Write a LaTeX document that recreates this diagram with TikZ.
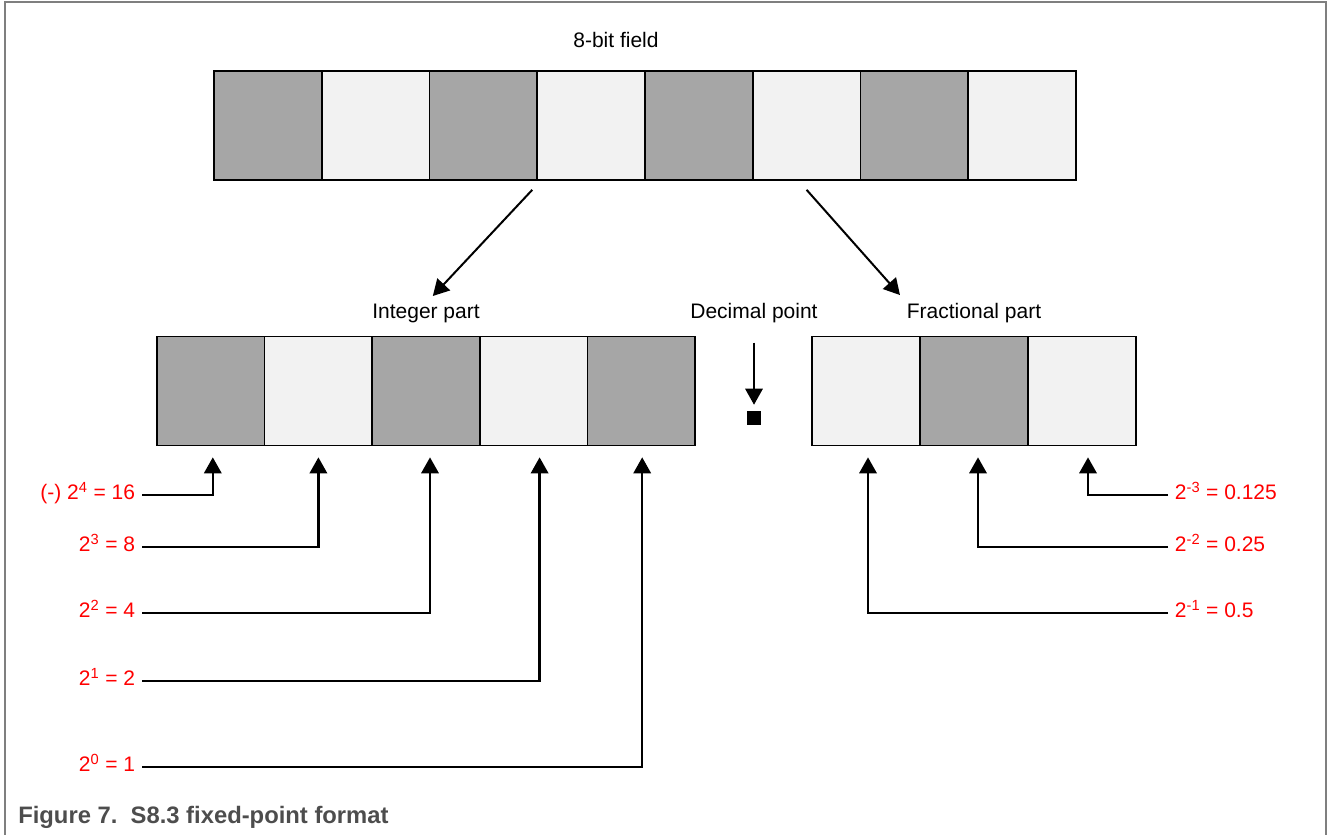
\documentclass[tikz,border=0pt]{standalone}
\usepackage{fontspec}
\setmainfont{Liberation Sans}
\usetikzlibrary{arrows.meta}
\definecolor{darkcell}{HTML}{A6A6A6}
\definecolor{lightcell}{HTML}{F2F2F2}
\definecolor{framegray}{HTML}{7F7F7F}
\definecolor{captiongray}{HTML}{4D4D4D}
\tikzset{
  bit/.style={draw, line width=1.2pt, minimum width=80.8pt, minimum height=81.5pt,
    inner sep=0pt, outer sep=0pt},
  one/.style={bit, fill=darkcell},
  zero/.style={bit, fill=lightcell},
  title/.style={font=\fontsize{15.75}{19}\selectfont, inner sep=0pt},
  weight/.style={font=\fontsize{15.75}{19}\selectfont, text=red, text height=0.72em,
    text depth=0pt, inner xsep=5pt, inner ysep=0pt},
  arr/.style={-{Triangle[length=12pt,width=13pt]}, line width=1.8pt},
}
\begin{document}
\begin{tikzpicture}[x=0.75pt, y=-0.75pt]
      \useasboundingbox (0,0) rectangle (1328,835);
      \draw[framegray, line width=1.2pt] (5,835) -- (5,2) -- (1326,2) -- (1326,835);
      \node[title, anchor=base] (fieldlbl) at (616,47) {8-bit field};
      \draw
        (267.9,125.5) node[one] (t1){}
        (375.6,125.5) node[zero] (t2){}
        (483.4,125.5) node[one] (t3){}
        (591.1,125.5) node[zero] (t4){}
        (698.9,125.5) node[one] (t5){}
        (806.6,125.5) node[zero] (t6){}
        (914.4,125.5) node[one] (t7){}
        (1022.1,125.5) node[zero] (t8){};
      \node[title, anchor=base] (intlbl) at (426,318) {Integer part};
      \node[title, anchor=base] (declbl) at (754,318) {Decimal point};
      \node[title, anchor=base] (fraclbl) at (974,318) {Fractional part};
      \draw
        (210.8,391) node[one] (i1){}
        (318.4,391) node[zero] (i2){}
        (426.0,391) node[one] (i3){}
        (533.6,391) node[zero] (i4){}
        (641.2,391) node[one] (i5){}
        (866.0,391) node[zero] (f1){}
        (974.0,391) node[one] (f2){}
        (1082.0,391) node[zero] (f3){};
      \node[fill=black, minimum size=10.5pt, inner sep=0pt] (dot) at (754,418) {};
      \node[weight, anchor=east] (w4) at (142,495) {(-)~2\textsuperscript{4} = 16};
      \node[weight, anchor=east] (w3) at (142,547) {2\textsuperscript{3} = 8};
      \node[weight, anchor=east] (w2) at (142,613) {2\textsuperscript{2} = 4};
      \node[weight, anchor=east] (w1) at (142,681) {2\textsuperscript{1} = 2};
      \node[weight, anchor=east] (w0) at (142,767) {2\textsuperscript{0} = 1};
      \node[weight, anchor=west] (wm3) at (1168,495) {2\textsuperscript{-3} = 0.125};
      \node[weight, anchor=west] (wm2) at (1168,547) {2\textsuperscript{-2} = 0.25};
      \node[weight, anchor=west] (wm1) at (1168,613) {2\textsuperscript{-1} = 0.5};
      \node[anchor=base west, inner sep=0pt, text=captiongray,
        font=\fontsize{17.85}{21}\selectfont\bfseries] (caption) at (18,823)
        {Figure 7.\ \ S8.3 fixed-point format};
      % split of the field
      \begin{scope}[arr, line width=1.5pt]
        \draw[shorten >=7.5pt] ([xshift=-3.75pt, yshift=-7.5pt]t3.south east) -- (intlbl.north);
        \draw[shorten >=7.5pt] ([yshift=-7.5pt]t6.south) -- (fraclbl.north west);
        \draw[shorten <=15pt, shorten >=4.5pt] (declbl.south) -- (dot.north);
      \end{scope}
      % bit weights
      \begin{scope}[arr, shorten >=9pt]
        \draw (w4.east) -| ([xshift=1.5pt]i1.south);
        \draw (w3.east) -| (i2.south);
        \draw (w2.east) -| ([xshift=3pt]i3.south);
        \draw (w1.east) -| ([xshift=4.5pt]i4.south);
        \draw (w0.east) -| ([xshift=0.75pt]i5.south);
        \draw (wm1.west) -| ([xshift=1.5pt]f1.south);
        \draw (wm2.west) -| ([xshift=3pt]f2.south);
        \draw (wm3.west) -| ([xshift=4.5pt]f3.south);
      \end{scope}
    \end{tikzpicture}
\end{document}
